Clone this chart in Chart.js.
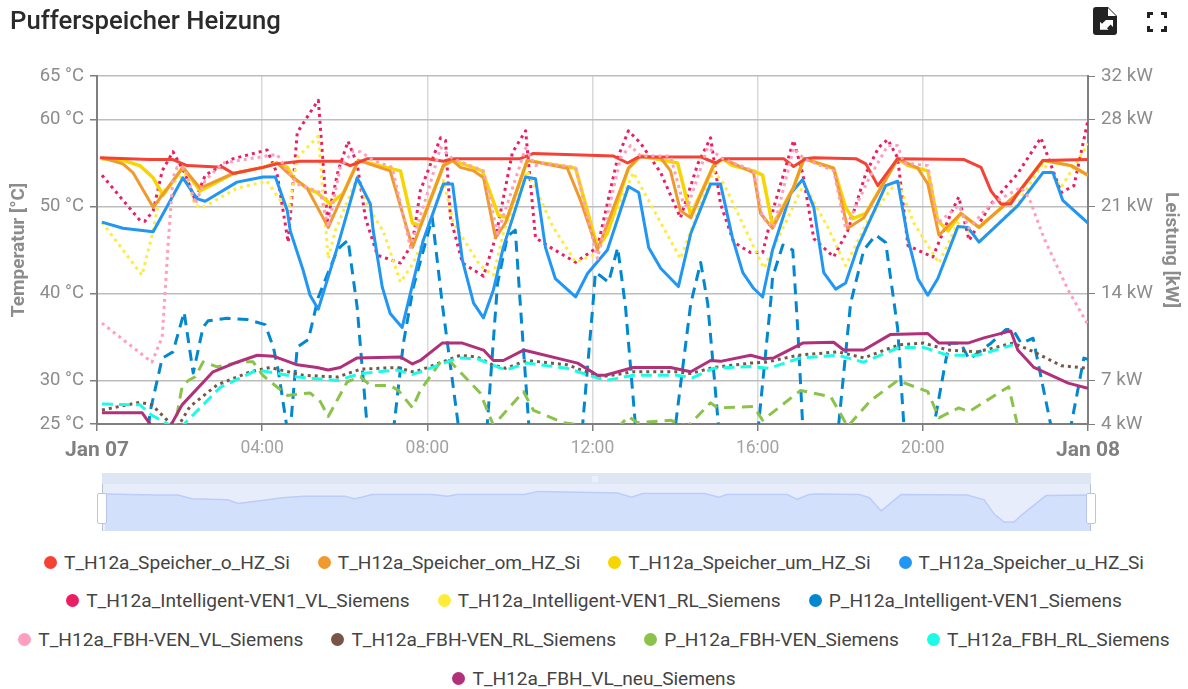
<!DOCTYPE html>
<html><head><meta charset="utf-8">
<script src="https://cdn.jsdelivr.net/npm/chart.js@4/dist/chart.umd.min.js"></script>
<style>
html,body{margin:0;padding:0;background:#fff;width:1188px;height:689px;overflow:hidden;font-family:Roboto,sans-serif}
#main{position:absolute;left:0;top:0}
#title{position:absolute;left:10px;top:5px;font-size:25.7px;font-weight:500;color:#2b2b2b;line-height:30px}
.ic{position:absolute}
#band{position:absolute;left:102px;top:473px;width:989px;height:11px;background:#dfe6f3}
#win{position:absolute;left:102px;top:484px;width:989px;height:47px;background:#e7edfb}
#over{position:absolute;left:102px;top:484px}
.hl{position:absolute;top:484px;width:1px;height:47px;background:#b9c2d3}
.hd{position:absolute;top:493px;width:8px;height:29px;background:#fff;border:1px solid #b7c6e6;border-radius:2px}
#grip{position:absolute;left:592px;top:476px;color:#fff;font-size:8px;line-height:6px;letter-spacing:0;font-weight:700}
.row{position:absolute;left:0;width:1188px;display:flex;justify-content:center;height:24px;align-items:center;font-size:19.1px;color:#444;white-space:nowrap}
.it{display:flex;align-items:center;margin:0 14px}
.dot{width:13px;height:13px;border-radius:50%;margin-right:7px;display:inline-block}
</style></head><body>
<canvas id="main" width="1188" height="470"></canvas>
<div id="title">Pufferspeicher Heizung</div>
<svg class="ic" style="left:1093px;top:7px" width="24" height="28" viewBox="0 0 24 28"><path d="M3 0h12l9 9v16a3 3 0 0 1-3 3H3a3 3 0 0 1-3-3V3a3 3 0 0 1 3-3z" fill="#222"/><path d="M15 1v8h8z" fill="#fff"/><path d="M13 13h7v7l-2.4-2.4-3.6 3.6 1.6 1.6H7v-8l2 2 3.4-3.4z" fill="#fff"/></svg>
<svg class="ic" style="left:1147px;top:12px" width="20" height="20" viewBox="0 0 20 20"><path d="M0 6V0h6v3H3v3zM14 0h6v6h-3V3h-3zM20 14v6h-6v-3h3v-3zM6 20H0v-6h3v3h3z" fill="#222"/></svg>
<div id="band"></div><div id="win"></div>
<canvas id="over" width="989" height="47"></canvas>
<div class="hl" style="left:102px"></div><div class="hl" style="left:1090px"></div>
<div class="hd" style="left:97px"></div><div class="hd" style="left:1086px"></div>
<div id="grip">|||</div>
<div id="legend"></div>
<script>
// [hour of day, °C] or [hour of day, kW]
const T_o=[[0.07,55.6],[1.28,55.4],[1.84,55.4],[2.18,54.7],[3.05,54.5],[3.30,53.8],[4.02,54.5],[4.36,54.9],[4.92,55.2],[5.89,55.2],[6.13,54.7],[6.30,55.0],[6.55,55.5],[8.0,55.5],[8.39,55.2],[8.61,55.5],[10.25,55.5],[10.57,56.1],[12.51,55.8],[12.85,55.0],[13.12,55.7],[14.62,55.7],[14.98,55.0],[15.15,55.5],[16.63,55.5],[16.87,54.6],[17.16,55.5],[17.36,55.6],[18.38,55.5],[18.62,54.9],[18.91,52.4],[19.39,55.5],[21.0,55.4],[21.41,54.5],[21.65,51.8],[21.89,50.3],[22.13,50.3],[22.30,51.5],[22.91,55.3],[24,55.4]];
const T_om=[[0.12,55.6],[0.63,54.9],[0.87,53.9],[1.36,49.9],[2.08,54.5],[2.50,52.1],[3.30,53.8],[4.02,54.5],[4.36,55.0],[4.68,53.6],[5.09,52.1],[5.60,47.6],[6.33,55.3],[7.10,54.1],[7.64,45.3],[8.39,54.7],[8.61,55.3],[8.80,54.5],[9.12,54.1],[9.36,53.3],[9.65,46.4],[9.89,48.1],[10.42,55.3],[11.39,54.4],[11.71,50.7],[12.12,45.0],[12.87,54.4],[13.16,55.8],[13.65,55.6],[13.89,54.1],[14.13,49.5],[14.38,48.7],[14.93,54.7],[15.15,55.5],[15.90,53.9],[16.07,49.2],[16.36,47.5],[16.87,52.2],[17.12,55.5],[17.84,54.4],[18.18,47.5],[18.57,48.7],[19.39,55.5],[19.88,54.4],[20.12,52.6],[20.39,46.7],[20.92,49.2],[21.36,47.6],[22.30,51.5],[22.91,55.3],[23.59,54.7],[24,53.6]];
const T_um=[[0.12,55.5],[0.63,55.3],[1.04,54.7],[1.36,53.3],[1.60,51.3],[2.08,54.5],[2.50,51.8],[3.30,53.8],[4.02,54.5],[4.36,55.0],[4.61,54.5],[4.75,53.3],[5.09,52.1],[5.33,51.6],[5.65,50.3],[5.96,51.5],[6.33,55.3],[7.35,54.1],[7.64,48.1],[7.83,47.8],[8.39,54.7],[8.61,55.3],[9.33,54.1],[9.72,49.0],[9.94,48.7],[10.42,55.3],[11.59,54.4],[12.12,45.3],[12.36,46.9],[12.87,54.4],[13.16,55.8],[14.06,55.0],[14.38,49.0],[14.93,54.7],[15.15,55.5],[15.39,54.7],[15.90,54.1],[16.12,53.6],[16.36,47.8],[16.87,52.2],[17.12,55.5],[17.84,54.4],[18.13,49.9],[18.30,48.6],[18.62,49.2],[19.39,55.5],[19.64,54.7],[20.12,54.1],[20.36,48.4],[20.61,47.2],[20.92,49.2],[21.36,47.6],[22.30,51.5],[22.91,55.3],[23.59,54.7],[24,53.6]];
const T_u=[[0.12,48.2],[0.63,47.5],[1.36,47.1],[2.08,53.3],[2.42,50.9],[2.62,50.6],[3.39,52.8],[4.02,53.4],[4.32,53.4],[4.61,49.5],[4.68,47.2],[4.99,42.7],[5.16,39.8],[5.36,38.2],[5.82,45.3],[6.30,53.3],[6.62,50.3],[6.69,47.2],[6.91,40.7],[7.10,37.7],[7.39,36.1],[7.90,46.1],[8.39,52.6],[8.61,52.6],[8.85,43.8],[9.12,38.9],[9.36,37.2],[9.60,40.4],[9.84,45.3],[10.38,53.4],[10.62,53.2],[10.86,45.3],[11.10,41.7],[11.59,39.6],[11.88,42.3],[12.36,45.0],[12.87,52.3],[13.12,51.6],[13.36,45.3],[13.65,42.9],[14.08,40.8],[14.38,46.9],[14.86,52.6],[15.10,52.6],[15.39,46.4],[15.64,42.4],[15.90,40.6],[16.12,39.6],[16.36,45.0],[16.80,51.5],[17.09,53.1],[17.36,49.9],[17.60,42.4],[17.89,40.5],[18.13,41.2],[18.42,45.3],[19.10,52.4],[19.39,52.9],[19.64,46.3],[19.88,41.7],[20.12,39.8],[20.36,41.7],[20.85,47.7],[21.09,47.6],[21.36,45.9],[22.30,50.1],[22.91,53.9],[23.15,53.9],[23.39,50.7],[24,48.1]];
const T_ven_vl=[[0.12,53.6],[1.04,48.4],[1.16,48.3],[1.36,49.5],[1.58,54.1],[1.84,56.3],[2.13,53.8],[2.38,50.7],[2.62,53.6],[3.30,55.5],[4.12,56.5],[4.36,53.8],[4.63,45.9],[4.85,58.5],[5.16,60.8],[5.36,62.2],[5.58,48.4],[5.84,54.1],[6.08,57.5],[6.30,54.9],[6.50,48.7],[6.79,44.4],[7.35,43.5],[7.64,45.8],[7.83,51.8],[8.32,57.9],[8.44,57.6],[8.56,48.7],[8.85,43.5],[9.36,42.0],[9.65,46.4],[10.06,56.2],[10.38,58.7],[10.62,46.4],[10.98,45.3],[11.59,43.6],[12.12,45.3],[12.61,55.6],[12.87,58.7],[13.16,57.3],[13.65,53.9],[14.13,48.7],[14.55,54.9],[14.86,57.9],[15.10,50.3],[15.42,45.9],[15.83,44.7],[16.12,44.7],[16.39,49.9],[16.87,57.6],[17.09,53.8],[17.36,46.3],[17.84,44.2],[18.18,47.2],[18.62,53.8],[18.93,56.8],[19.15,57.7],[19.39,55.6],[19.64,45.5],[20.24,44.2],[20.68,49.2],[20.87,51.1],[21.12,46.1],[21.65,50.3],[22.30,53.8],[22.86,57.9],[23.35,51.6],[23.66,52.4],[24,59.9]];
const T_ven_rl=[[0.12,48.2],[1.09,42.1],[1.36,47.2],[1.53,51.5],[2.13,53.8],[2.38,50.1],[2.57,49.9],[3.39,52.1],[4.12,52.9],[4.61,49.5],[4.63,49.0],[4.85,55.6],[5.36,58.1],[5.60,44.0],[5.77,47.2],[6.30,53.3],[6.62,49.5],[6.93,47.2],[7.35,41.3],[7.66,43.5],[8.0,47.2],[8.39,53.0],[8.63,48.1],[9.28,43.2],[9.60,42.1],[9.84,46.9],[10.42,54.1],[11.05,47.6],[11.59,43.6],[12.12,44.6],[12.99,53.9],[14.13,44.0],[14.93,54.1],[15.18,52.6],[16.15,42.9],[17.12,52.6],[17.70,47.6],[18.13,43.2],[18.67,48.4],[19.39,53.0],[19.78,48.1],[20.39,43.5],[20.85,48.1],[21.41,46.1],[22.30,50.3],[22.91,55.0],[23.35,52.2],[24,57.2]];
const P_ven=[[0.12,0],[1.16,0],[1.28,4.9],[1.58,9.3],[1.84,9.8],[2.11,13.0],[2.33,8.1],[2.57,11.8],[2.69,12.3],[3.15,12.5],[3.64,12.4],[4.07,12.0],[4.27,10.2],[4.39,8.3],[4.61,3.5],[4.65,2.3],[4.85,10.2],[5.12,10.8],[5.36,14.2],[5.82,18.0],[5.94,18.4],[6.08,18.8],[6.30,13.4],[6.55,3.5],[6.67,0],[7.05,0],[7.18,3.5],[7.42,10.5],[7.66,15.0],[8.12,20.6],[8.36,13.7],[8.75,3.9],[8.85,0],[9.36,0],[9.45,3.9],[9.70,15.3],[9.94,19.1],[10.13,19.6],[10.25,13.7],[10.45,4.3],[10.52,0],[11.66,0],[11.76,3.9],[12.02,14.0],[12.07,16.2],[12.24,15.8],[12.39,15.4],[12.61,18.2],[12.80,13.4],[13.04,3.9],[13.14,0],[13.94,0],[14.01,3.9],[14.38,13.7],[14.62,17.0],[14.79,13.7],[15.05,3.9],[15.15,0],[15.95,0],[16.02,3.9],[16.32,14.0],[16.36,15.8],[16.61,18.4],[16.85,18.0],[16.97,11.7],[17.09,3.9],[17.16,0],[17.89,0],[17.96,3.9],[18.25,13.7],[18.57,18.0],[18.86,19.2],[19.10,18.6],[19.39,11.7],[19.54,3.9],[19.61,0],[20.19,0],[20.27,3.9],[20.56,9.2],[20.65,10.5],[20.92,10.5],[21.12,9.2],[21.65,10.5],[22.01,11.6],[22.18,11.6],[22.38,10.5],[22.67,10.9],[23.10,3.9],[23.22,0],[23.49,0],[23.59,3.9],[23.90,9.3],[24,9.2]];
const T_fbh_vl=[[0.12,36.6],[1.33,32.1],[1.58,35.0],[1.72,45.5],[1.84,53.3],[1.94,54.5],[2.13,54.4],[2.38,50.3],[2.62,53.0],[3.05,55.0],[4.36,56.0],[4.61,54.1],[4.85,52.6],[5.41,51.6],[5.60,47.6],[5.89,54.5],[6.21,56.4],[6.38,56.3],[6.69,55.3],[7.15,54.5],[7.59,45.3],[8.02,51.8],[8.32,56.8],[8.61,55.5],[9.36,54.1],[9.70,46.9],[10.38,56.7],[10.62,54.7],[10.74,55.0],[11.59,54.5],[12.12,44.0],[12.68,55.6],[12.92,57.0],[13.16,55.8],[13.89,55.8],[14.18,50.7],[14.30,49.9],[14.79,56.8],[15.15,55.5],[15.90,54.1],[16.12,48.7],[16.39,47.6],[16.87,56.7],[17.12,55.5],[17.84,54.1],[18.13,47.5],[18.67,53.0],[19.15,57.0],[19.39,57.0],[19.54,55.0],[20.12,54.7],[20.36,48.1],[20.87,50.1],[21.12,47.5],[21.65,50.3],[22.38,52.2],[22.57,51.0],[22.93,46.4],[23.52,40.4],[24,36.4]];
const T_fbh_rl2=[[0.12,26.6],[1.04,27.5],[1.33,27.2],[1.77,25.1],[1.96,24.7],[2.25,27.0],[2.91,29.5],[3.71,31.0],[4.19,31.5],[4.99,30.6],[5.82,30.4],[6.38,31.3],[7.27,31.5],[7.64,31.0],[7.83,31.2],[8.80,32.9],[9.21,32.7],[9.58,31.8],[9.89,31.4],[10.42,32.3],[11.39,31.8],[12.19,30.4],[12.99,31.0],[14.06,31.0],[14.38,30.8],[14.93,31.5],[15.83,32.0],[16.19,32.1],[16.97,32.9],[17.94,33.3],[18.57,32.6],[19.42,34.1],[20.02,34.3],[20.61,33.5],[21.33,33.3],[22.18,34.3],[22.69,33.3],[23.35,31.7],[24,31.4]];
const P_fbh=[[0.12,0],[1.77,0],[1.89,3.9],[2.06,7.0],[2.21,7.5],[2.38,7.8],[2.57,9.0],[2.91,8.6],[3.47,9.0],[3.78,9.0],[4.02,7.9],[4.61,6.3],[5.16,6.5],[5.41,5.8],[5.60,4.6],[6.06,7.4],[6.38,7.8],[6.62,7.1],[7.10,7.1],[7.30,6.7],[7.64,5.3],[7.83,6.7],[8.32,9.0],[8.56,9.0],[9.28,6.5],[9.60,3.9],[10.33,6.6],[10.57,5.1],[11.30,4.1],[11.71,3.9],[12.61,3.7],[12.87,4.6],[13.09,4.1],[13.89,4.3],[14.30,3.8],[14.86,5.7],[15.03,5.3],[15.90,5.4],[16.12,4.3],[17.04,6.7],[17.77,6.2],[18.18,3.8],[18.74,5.9],[19.39,7.5],[20.12,6.6],[20.39,4.5],[20.87,5.3],[21.12,5.0],[22.08,7.0],[22.30,3.8],[22.42,0],[24,0]];
const T_fbh_rl=[[0.12,27.3],[1.04,27.2],[1.33,26.0],[1.84,24.7],[2.01,24.5],[2.98,29.2],[3.78,31.0],[4.02,31.1],[4.85,30.4],[5.82,30.0],[6.38,30.8],[7.27,31.2],[7.64,30.7],[7.83,31.0],[8.75,32.6],[9.21,32.5],[9.89,31.2],[10.42,32.0],[11.39,31.4],[12.31,30.0],[12.99,30.6],[14.06,30.6],[14.42,30.3],[14.93,31.4],[15.83,31.6],[16.27,31.4],[17.04,32.6],[17.94,32.9],[18.57,32.1],[19.42,33.8],[20.02,33.8],[20.61,32.9],[21.33,32.9],[22.18,34.1]];
const T_fbh_neu=[[0.12,26.3],[1.09,26.3],[1.33,24.7],[1.77,24.7],[2.06,27.2],[2.81,31.0],[3.39,32.1],[3.88,32.9],[4.27,32.8],[4.85,31.8],[5.33,31.5],[5.60,31.2],[5.89,31.5],[6.30,32.6],[7.35,32.7],[7.64,31.9],[7.83,32.3],[8.36,34.3],[8.85,34.3],[9.36,33.5],[9.60,32.3],[9.84,32.3],[10.33,33.5],[11.64,32.0],[12.12,30.6],[12.31,30.6],[12.99,31.5],[13.89,31.5],[14.38,31.0],[14.86,32.3],[15.10,32.2],[15.83,32.9],[16.15,32.5],[16.39,32.6],[17.09,34.3],[17.84,34.4],[18.08,33.5],[18.57,33.5],[19.22,35.3],[20.12,35.4],[20.39,34.3],[21.09,34.3],[21.48,34.9],[22.13,35.7],[22.30,33.5],[22.69,31.5],[23.52,29.7],[24,29.1]];

const leftTicks=[25,30,40,50,60,65];
const rightTicks=[4,7.5,14.5,21.5,28.5,32];
const seriesNames=['T_H12a_Speicher_o_HZ_Si','T_H12a_Speicher_om_HZ_Si','T_H12a_Speicher_um_HZ_Si','T_H12a_Speicher_u_HZ_Si','T_H12a_Intelligent-VEN1_VL_Siemens','T_H12a_Intelligent-VEN1_RL_Siemens','P_H12a_Intelligent-VEN1_Siemens','T_H12a_FBH-VEN_VL_Siemens','T_H12a_FBH-VEN_RL_Siemens','P_H12a_FBH-VEN_Siemens','T_H12a_FBH_RL_Siemens','T_H12a_FBH_VL_neu_Siemens'];
const seriesValues=[T_o,T_om,T_um,T_u,T_ven_vl,T_ven_rl,P_ven,T_fbh_vl,T_fbh_rl2,P_fbh,T_fbh_rl,T_fbh_neu];
const colors=['#f44336','#ef9a2e','#f6d500','#2196f3','#e91e63','#ffeb3b','#0288d1','#ff9ebd','#795548','#8bc34a','#1cfbe6','#b0307a'];
const dashes=[[],[],[],[],[3,4],[3,4],[11,7],[3,4],[3,4],[11,7],[11,6],[]];
const axes=['yL','yL','yL','yL','yL','yL','yR','yL','yL','yR','yL','yL'];
const widths=[3,3,3.5,3,3,3,3,3,3,3,3,3];
const drawOrder=[4,5,6,3,2,1,8,0,9,7,10,11]; // later in this list paints on top

const datasets=seriesValues.map((v,i)=>({label:seriesNames[i],data:v,yAxisID:axes[i],borderColor:colors[i],borderWidth:widths[i],borderDash:dashes[i],pointRadius:0,tension:0,fill:false,order:20-drawOrder.indexOf(i),borderJoinStyle:'round'}));
const AX='#7f7f7f',GR='#bdbdbd';
const isDay=c=>!!(c.tick&&c.tick.value%24===0);
new Chart(document.getElementById('main'),{type:'line',data:{datasets},options:{
 responsive:false,animation:false,devicePixelRatio:1,
 layout:{padding:{top:76,left:0,right:0,bottom:0}},
 plugins:{legend:{display:false},tooltip:{enabled:false}},
 scales:{
  x:{type:'linear',min:0,max:24,afterFit:s=>{s.height=46},
   afterBuildTicks:s=>{s.ticks=[0,4,8,12,16,20,24].map(v=>({value:v}))},
   grid:{color:'#d9d9d9',lineWidth:1.5,tickColor:AX,tickLength:7},
   border:{color:AX,width:2},
   ticks:{autoSkip:false,maxRotation:0,padding:7,
    callback:v=>v===0?'Jan 07':v===24?'Jan 08':String(v).padStart(2,'0')+':00',
    font:c=>isDay(c)?{family:'Roboto',size:21,weight:'bold'}:{family:'Roboto',size:17.5},
    color:c=>isDay(c)?'#808080':'#a3a3a3'}},
  yL:{type:'linear',position:'left',min:25,max:65,afterFit:s=>{s.width=97},
   afterBuildTicks:s=>{s.ticks=leftTicks.map(v=>({value:v}))},
   grid:{color:GR,lineWidth:1.5,tickColor:AX,tickLength:7},
   border:{color:AX,width:2},
   ticks:{autoSkip:false,padding:6,callback:v=>v+' °C',font:{family:'Roboto',size:18.5},color:'#8c8c8c'},
   title:{display:true,text:'Temperatur [°C]',font:{family:'Roboto',size:19,weight:'bold'},color:'#8c8c8c',padding:{top:8,bottom:0}}},
  yR:{type:'linear',position:'right',min:4,max:32,afterFit:s=>{s.width=100},
   afterBuildTicks:s=>{s.ticks=rightTicks.map(v=>({value:v}))},
   grid:{drawOnChartArea:false,color:AX,tickLength:7},
   border:{color:AX,width:2},
   ticks:{autoSkip:false,padding:6,callback:v=>Math.floor(v)+' kW',font:{family:'Roboto',size:18.8},color:'#8c8c8c'},
   title:{display:true,text:'Leistung [kW]',font:{family:'Roboto',size:19,weight:'bold'},color:'#8c8c8c',padding:{top:6,bottom:0}}}
 }}});

new Chart(document.getElementById('over'),{type:'line',data:{datasets:[{data:T_o,borderColor:'#bccdf8',borderWidth:1.5,backgroundColor:'#d3e0fb',fill:'start',pointRadius:0,tension:0}]},options:{
 responsive:false,animation:false,devicePixelRatio:1,layout:{padding:0},
 plugins:{legend:{display:false},tooltip:{enabled:false}},
 scales:{x:{type:'linear',min:0,max:24,display:false},y:{type:'linear',min:48.6,max:57.5,display:false}}}});

const legendRows=[[0,1,2,3],[4,5,6],[7,8,9,10],[11]];
const rowTops=[550,588,627,666];
const lg=document.getElementById('legend');
legendRows.forEach((r,k)=>{const d=document.createElement('div');d.className='row';d.style.top=rowTops[k]+'px';
 r.forEach(i=>{const it=document.createElement('span');it.className='it';
  const c=document.createElement('span');c.className='dot';c.style.background=colors[i];it.appendChild(c);
  it.appendChild(document.createTextNode(seriesNames[i]));d.appendChild(it);});lg.appendChild(d);});
</script>
</body></html>
